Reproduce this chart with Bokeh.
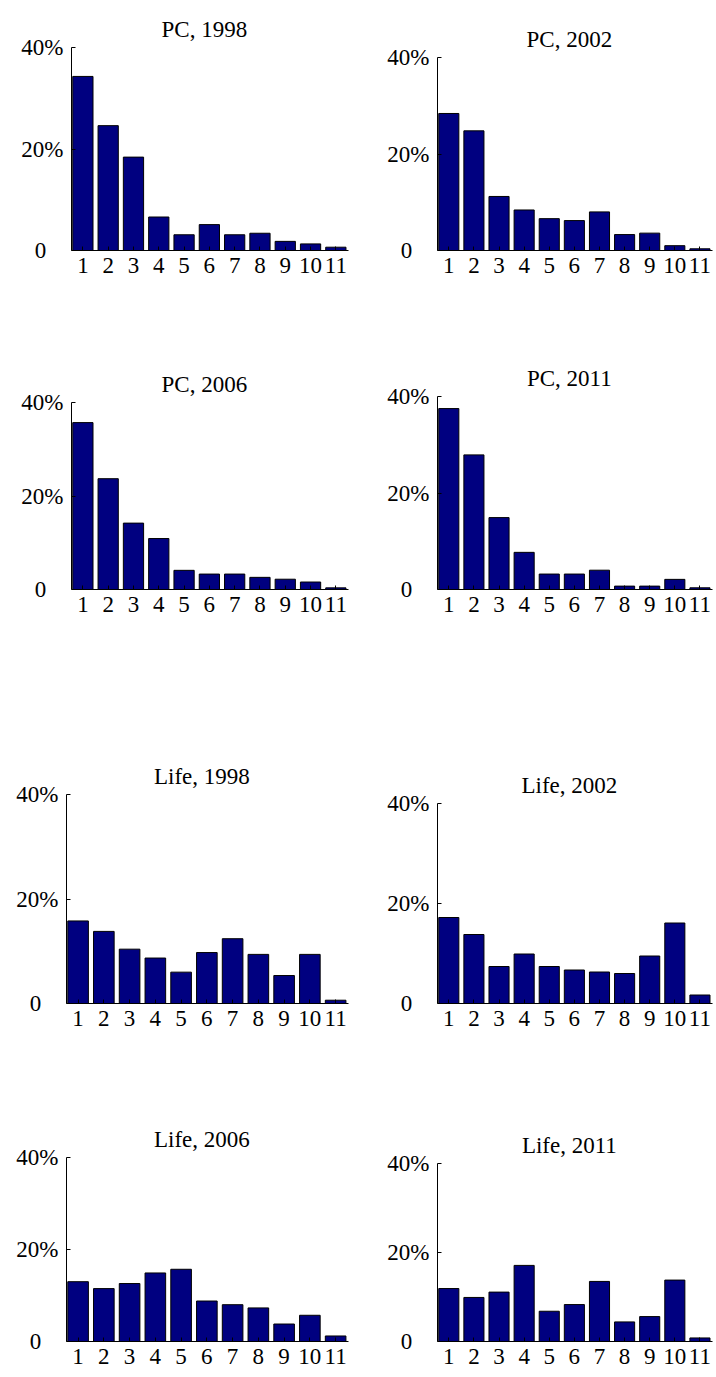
from bokeh.plotting import figure
from bokeh.layouts import column, row
from bokeh.models import FixedTicker, Range1d, Label
from bokeh.embed import file_html
from bokeh.resources import INLINE

categories = list(range(1, 12))
x_tick_labels = [str(c) for c in categories]
y_ticks = [0, 20, 40]
y_tick_labels = ["0\u00a0\u00a0\u00a0", "20%", "40%"]

pc_1998 = [34.3, 24.6, 18.4, 6.6, 3.1, 5.1, 3.1, 3.4, 1.8, 1.3, 0.65]
pc_2002 = [28.4, 24.8, 11.2, 8.4, 6.6, 6.2, 8.0, 3.3, 3.6, 1.0, 0.35]
pc_2006 = [35.7, 23.7, 14.2, 10.9, 4.1, 3.3, 3.3, 2.6, 2.2, 1.6, 0.35]
pc_2011 = [37.5, 27.9, 14.9, 7.7, 3.2, 3.2, 4.0, 0.7, 0.7, 2.1, 0.35]
life_1998 = [15.8, 13.8, 10.4, 8.7, 6.0, 9.75, 12.4, 9.4, 5.35, 9.4, 0.63]
life_2002 = [17.2, 13.8, 7.4, 9.9, 7.4, 6.7, 6.3, 6.0, 9.5, 16.1, 1.7]
life_2006 = [13.0, 11.5, 12.6, 14.9, 15.7, 8.8, 8.0, 7.3, 3.8, 5.7, 1.2]
life_2011 = [11.9, 9.9, 11.1, 17.1, 6.8, 8.3, 13.5, 4.4, 5.6, 13.8, 0.8]

FONT = "Liberation Serif"
FS = "23px"
BAR_COLOR = "#000080"
Y_MAX = 40
MBT = 4


def panel(title, values, width, height, mbl, mbr, mbb, axis_gap):
    # axis_gap: pixels between the frame top and the top of the y axis (40%)
    frame_h = height - MBT - mbb
    y_end = Y_MAX * frame_h / (frame_h - axis_gap)
    p = figure(width=width, height=height, output_backend="svg", toolbar_location=None,
               x_range=Range1d(0.55, 11.5), y_range=Range1d(0, y_end),
               min_border_left=mbl, min_border_right=mbr,
               min_border_top=MBT, min_border_bottom=mbb,
               tools="")
    p.vbar(x=categories, top=values, width=0.8, bottom=0,
           fill_color=BAR_COLOR, line_color="#000000", line_width=1)
    p.add_layout(Label(x=6.0, y=Y_MAX, x_offset=-5, y_offset=18, text=title,
                       text_font=FONT, text_font_size=FS, text_color="#000000",
                       text_align="center", text_baseline="alphabetic"))
    p.outline_line_color = None
    p.xgrid.visible = False
    p.ygrid.visible = False
    p.background_fill_color = "white"
    p.border_fill_color = "white"

    xa = p.xaxis[0]
    xa.ticker = FixedTicker(ticks=categories)
    xa.major_label_overrides = {c: l for c, l in zip(categories, x_tick_labels)}
    xa.major_tick_in = 4
    xa.major_tick_out = 0
    xa.minor_tick_in = 0
    xa.minor_tick_out = 0
    xa.major_label_standoff = 7
    xa.major_label_text_font = FONT
    xa.major_label_text_font_size = FS
    xa.major_label_text_color = "#000000"
    xa.axis_line_color = "#000000"
    xa.major_tick_line_color = "#000000"

    ya = p.yaxis[0]
    ya.bounds = (0, Y_MAX)
    ya.ticker = FixedTicker(ticks=y_ticks)
    ya.major_label_overrides = {t: l for t, l in zip(y_ticks, y_tick_labels)}
    ya.major_tick_in = 4
    ya.major_tick_out = 0
    ya.minor_tick_in = 0
    ya.minor_tick_out = 0
    ya.major_label_standoff = 8
    ya.major_label_text_font = FONT
    ya.major_label_text_font_size = FS
    ya.major_label_text_color = "#000000"
    ya.axis_line_color = "#000000"
    ya.major_tick_line_color = "#000000"
    return p


LW, RW = 366, 350

# row 1: 0..300, baseline 250
p1 = panel("PC, 1998", pc_1998, LW, 300, 71, 18, 50, 47 - MBT)
p2 = panel("PC, 2002", pc_2002, RW, 300, 71, 4, 50, 57 - MBT)
# row 2: 300..640, baseline 589
p3 = panel("PC, 2006", pc_2006, LW, 340, 71, 18, 51, 402 - 300 - MBT)
p4 = panel("PC, 2011", pc_2011, RW, 340, 71, 4, 51, 396 - 300 - MBT)
# row 3: 640..1050, baseline 1003
p5 = panel("Life, 1998", life_1998, LW, 410, 66, 18, 47, 794 - 640 - MBT)
p6 = panel("Life, 2002", life_2002, RW, 410, 71, 4, 47, 803 - 640 - MBT)
# row 4: 1050..1376, baseline 1341
p7 = panel("Life, 2006", life_2006, LW, 326, 66, 18, 35, 1157 - 1050 - MBT)
p8 = panel("Life, 2011", life_2011, RW, 326, 71, 4, 35, 1163 - 1050 - MBT)

layout = column(row(p1, p2), row(p3, p4), row(p5, p6), row(p7, p8))

open("out.html", "w").write(file_html(layout, INLINE))
